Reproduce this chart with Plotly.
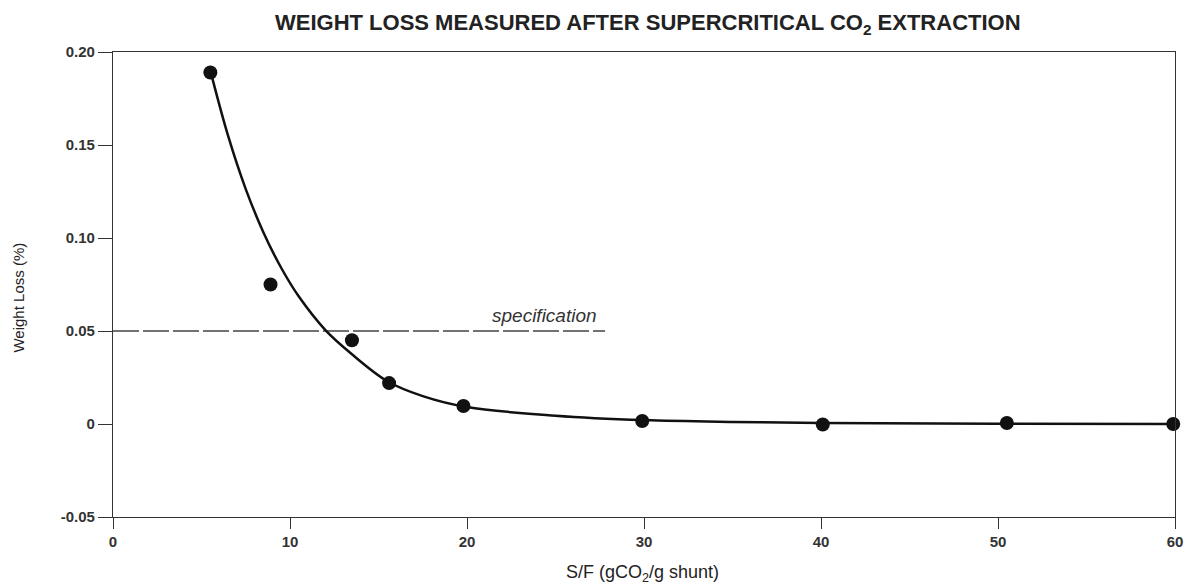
import plotly.graph_objects as go

# measured points
sf_points = [5.5, 8.9, 13.5, 15.6, 19.8, 29.9, 40.1, 50.5, 59.9]
loss_points = [0.189, 0.075, 0.045, 0.022, 0.0097, 0.0016, -0.0003, 0.0005, 0.0]

# fitted curve
sf_curve = [5.54, 6.5, 7.5, 8.5, 9.5, 10.5, 12.0, 13.5, 15.5, 17.5, 20.0, 25.0, 30.0, 35.0, 40.0, 50.0, 60.0]
loss_curve = [0.1885, 0.155, 0.1263, 0.103, 0.084, 0.0685, 0.0505, 0.0375, 0.023, 0.015, 0.0091, 0.0045, 0.0021, 0.0011, 0.0006, 0.0002, 0.0]

spec_x = [0, 27.8]
spec_y = [0.05, 0.05]

y_ticks = [0.20, 0.15, 0.10, 0.05, 0, -0.05]
y_ticktext = ["0.20", "0.15", "0.10", "0.05", "0", "-0.05"]
x_ticks = [0, 10, 20, 30, 40, 50, 60]

fig = go.Figure()
fig.add_trace(go.Scatter(x=spec_x, y=spec_y, mode="lines",
                         line=dict(color="#444444", width=1.6, dash="26px,4px"),
                         showlegend=False, hoverinfo="skip"))
fig.add_trace(go.Scatter(x=sf_curve, y=loss_curve, mode="lines",
                         line=dict(color="#111111", width=2.5, shape="spline", smoothing=1.0),
                         showlegend=False))
fig.add_trace(go.Scatter(x=sf_points, y=loss_points, mode="markers",
                         marker=dict(color="#111111", size=14),
                         showlegend=False, cliponaxis=False))

fig.add_annotation(x=24.35, y=0.0515, xref="x", yref="y", text="<i>specification</i>",
                   showarrow=False, yanchor="bottom",
                   font=dict(family="Liberation Sans", size=19, color="#333333"))

# axis titles
fig.add_annotation(x=-0.089, y=0.473, xref="paper", yref="paper", text="Weight Loss (%)",
                   showarrow=False, textangle=-90, xanchor="center", yanchor="middle",
                   font=dict(family="Liberation Sans", size=15, color="#222222"))
fig.add_annotation(x=0.499, y=-0.122, xref="paper", yref="paper", text="S/F (gCO<sub>2</sub>/g shunt)",
                   showarrow=False, xanchor="center", yanchor="middle",
                   font=dict(family="Liberation Sans", size=18, color="#222222"))

fig.update_layout(
    width=1193, height=584,
    margin=dict(l=113, r=10, t=52, b=67),
    paper_bgcolor="white", plot_bgcolor="white",
    font=dict(family="Liberation Sans", size=14, color="#222222"),
    title=dict(text="<b>WEIGHT LOSS MEASURED AFTER SUPERCRITICAL CO<sub>2</sub> EXTRACTION</b>",
               x=0.543, xanchor="center", y=0.962, yanchor="middle",
               font=dict(family="Liberation Sans Narrow, Liberation Sans", size=22, color="#222222")),
    xaxis=dict(range=[0, 60], tickvals=x_ticks, ticks="outside", ticklen=11, tickwidth=1.2,
               tickcolor="#333333", tickfont=dict(size=15, weight="bold", color="#333333"),
               ticklabeloverflow="allow",
               showline=True, linecolor="#333333", linewidth=1.3, mirror=True,
               showgrid=False, zeroline=False),
    yaxis=dict(range=[-0.05, 0.20], tickvals=y_ticks, ticktext=y_ticktext,
               ticks="outside", ticklen=14, tickwidth=1.2,
               tickcolor="#333333", tickfont=dict(size=15, weight="bold", color="#333333"),
               showline=True, linecolor="#333333", linewidth=1.3, mirror=True,
               showgrid=False, zeroline=False),
)

fig.write_html("out.html", config={"displayModeBar": False},
               post_script="document.body.style.margin='0';document.body.style.overflow='hidden';")
